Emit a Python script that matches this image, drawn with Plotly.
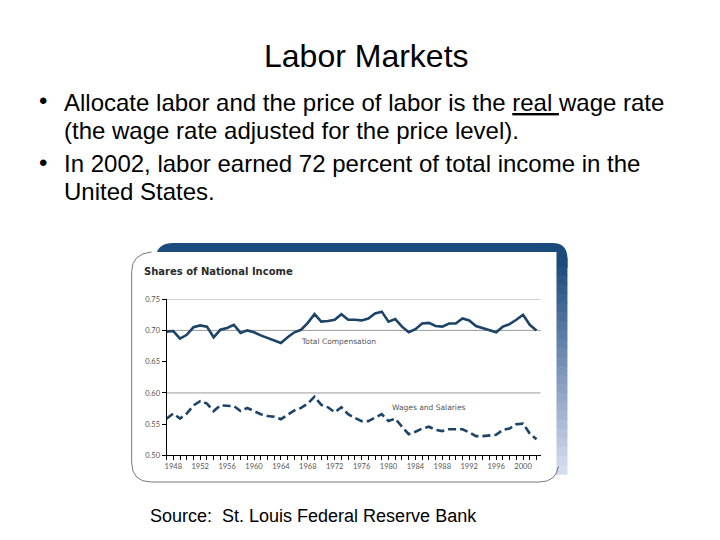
import plotly.graph_objects as go

years = list(range(1947, 2003))
total_compensation = [0.698, 0.699, 0.687, 0.693, 0.705, 0.708, 0.706, 0.689, 0.701, 0.704,
                      0.709, 0.696, 0.700, 0.697, 0.692, 0.688, 0.684, 0.680, 0.689, 0.697,
                      0.701, 0.712, 0.726, 0.714, 0.715, 0.717, 0.726, 0.717, 0.717, 0.716,
                      0.719, 0.727, 0.730, 0.714, 0.718, 0.706, 0.697, 0.702, 0.711, 0.712,
                      0.707, 0.706, 0.711, 0.711, 0.719, 0.716, 0.707, 0.704, 0.700, 0.697,
                      0.706, 0.710, 0.717, 0.725, 0.709, 0.700]
wages_salaries = [0.559, 0.567, 0.559, 0.567, 0.580, 0.587, 0.583, 0.571, 0.580, 0.580,
                  0.579, 0.571, 0.576, 0.571, 0.566, 0.563, 0.562, 0.558, 0.565, 0.572,
                  0.576, 0.583, 0.594, 0.581, 0.577, 0.569, 0.577, 0.566, 0.560, 0.555,
                  0.555, 0.560, 0.566, 0.555, 0.559, 0.546, 0.534, 0.538, 0.543, 0.546,
                  0.541, 0.539, 0.542, 0.542, 0.542, 0.537, 0.531, 0.531, 0.532, 0.533,
                  0.541, 0.543, 0.550, 0.551, 0.535, 0.526]
x_label_years = [1948, 1952, 1956, 1960, 1964, 1968, 1972, 1976, 1980, 1984, 1988, 1992, 1996, 2000]
y_ticks = [0.50, 0.55, 0.60, 0.65, 0.70, 0.75]
y_tick_labels = ["0.50", "0.55", "0.60", "0.65", "0.70", "0.75"]
grid_levels = [0.60, 0.70, 0.75]

W, H = 720, 540
def px(x):
    return x / W
def py(y):
    return 1 - y / H

LINE = "#1d4466"
NAVY = "#1b4a7c"

fig = go.Figure()
fig.add_trace(go.Scatter(x=years, y=total_compensation, mode="lines",
                         line=dict(color=LINE, width=2.6), name="Total Compensation"))
fig.add_trace(go.Scatter(x=years, y=wages_salaries, mode="lines",
                         line=dict(color=LINE, width=2.6, dash="8px,4px"), name="Wages and Salaries"))

shapes = []
# blue band on top
shapes.append(dict(type="path", xref="paper", yref="paper", layer="below",
                   path=f"M {px(146)},{py(252)} Q {px(146)},{py(235)} {px(164)},{py(235)} "
                        f"L {px(544)},{py(235)} Q {px(559)},{py(235)} {px(559)},{py(251)} "
                        f"L {px(559)},{py(260)} L {px(146)},{py(260)} Z",
                   fillcolor=NAVY, line=dict(width=0)))
# right gradient strip
n = 24
top, bot = 250, 470
c0 = (27, 74, 124)
c1 = (214, 220, 240)
for i in range(n):
    t = i / (n - 1)
    col = tuple(int(c0[k] + (c1[k] - c0[k]) * t) for k in range(3))
    y0 = top + (bot - top) * i / n
    y1 = top + (bot - top) * (i + 1) / n + 0.6
    shapes.append(dict(type="rect", xref="paper", yref="paper", layer="below",
                       x0=px(546), x1=px(559), y0=py(y0), y1=py(y1),
                       fillcolor="rgb(%d,%d,%d)" % col, line=dict(width=0)))
# white panel
shapes.append(dict(type="path", xref="paper", yref="paper", layer="below",
                   path=f"M {px(122)},{py(262)} Q {px(122)},{py(244)} {px(140)},{py(244)} "
                        f"L {px(548)},{py(244)} L {px(548)},{py(462)} "
                        f"Q {px(548)},{py(478)} {px(532)},{py(478)} "
                        f"L {px(140)},{py(478)} Q {px(122)},{py(478)} {px(122)},{py(460)} Z",
                   fillcolor="white", line=dict(width=0)))
# thin outline left/bottom
shapes.append(dict(type="path", xref="paper", yref="paper", layer="below",
                   path=f"M {px(142)},{py(244)} Q {px(122)},{py(246)} {px(122)},{py(264)} "
                        f"L {px(122)},{py(458)} Q {px(122)},{py(478)} {px(142)},{py(478)} "
                        f"L {px(530)},{py(478)} Q {px(548)},{py(478)} {px(550)},{py(462)}",
                   line=dict(color="#555555", width=0.8)))
for g in grid_levels:
    shapes.append(dict(type="line", xref="x domain", yref="y", layer="below",
                       x0=0, x1=1, y0=g, y1=g, line=dict(color="#9a9a9a", width=1)))

ticktext = [str(y) if y in x_label_years else "" for y in years]

annotations = []
def txt(s, x, y, size, color="black", family="Liberation Sans, Arial", xanchor="left"):
    annotations.append(dict(text=s, x=px(x), y=py(y), xref="paper", yref="paper",
                            xanchor=xanchor, yanchor="middle", showarrow=False,
                            font=dict(size=size, color=color, family=family)))

txt("Labor Markets", 357, 45, 32, xanchor="center")
txt("•", 27, 90, 24)
txt("•", 27, 153, 24)
txt("Allocate labor and the price of labor is the <span style='text-decoration:underline'>real </span>wage rate", 52, 92, 24)
txt("(the wage rate adjusted for the price level).", 52, 121, 24)
txt("In 2002, labor earned 72 percent of total income in the", 52, 154, 24)
txt("United States.", 52, 183, 24)
txt("Source:  St. Louis Federal Reserve Bank", 138, 513, 18)
txt("<b>Shares of National Income</b>", 132, 264, 10, color="#2a2a2a", family="DejaVu Sans")
txt("Total Compensation", 290, 335, 7.5, color="#555555", family="DejaVu Sans")
txt("Wages and Salaries", 381, 402, 7.5, color="#555555", family="DejaVu Sans")

fig.update_layout(
    width=W, height=H, margin=dict(l=0, r=0, t=0, b=0),
    paper_bgcolor="white", plot_bgcolor="rgba(0,0,0,0)", showlegend=False,
    shapes=shapes, annotations=annotations,
    xaxis=dict(domain=[px(157), px(532)], range=[1947, 2002.6], tickvals=years, ticktext=ticktext,
               ticks="outside", ticklen=4, tickwidth=1, tickcolor="black", showline=True,
               linecolor="black", linewidth=1, showgrid=False, zeroline=False,
               tickfont=dict(size=7.5, color="#555555", family="Lato, Open Sans"), tickangle=0),
    yaxis=dict(domain=[py(451), py(292)], range=[0.50, 0.75], tickvals=y_ticks, ticktext=y_tick_labels,
               ticks="outside", ticklen=4, tickwidth=1, tickcolor="black", showline=True,
               linecolor="black", linewidth=1, showgrid=False, zeroline=False,
               tickfont=dict(size=7.5, color="#555555", family="Lato, Open Sans")),
)

fig.write_html("out.html")
